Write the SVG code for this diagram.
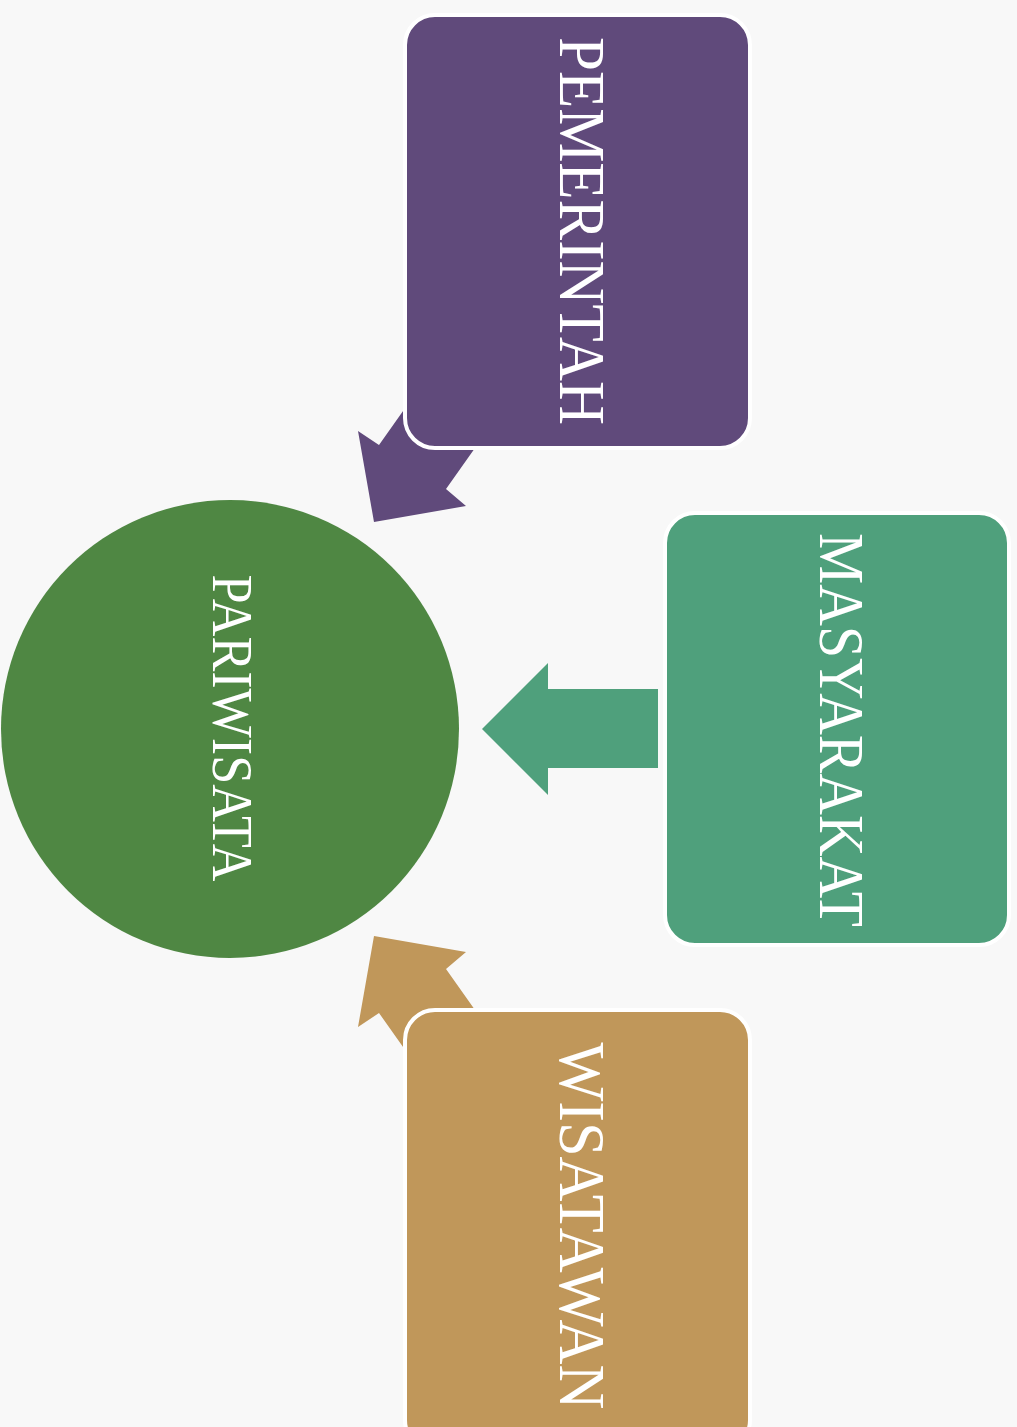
<svg xmlns="http://www.w3.org/2000/svg" width="1017" height="1427" viewBox="0 0 1017 1427">
  <style>
    .lbl { font-family: "Liberation Serif", "Times New Roman", serif; fill: #ffffff; text-anchor: middle; }
    .box { stroke: #ffffff; stroke-width: 4; }
  </style>
  <rect x="0" y="0" width="1017" height="1427" fill="#f8f8f8"/>
  <g id="connectors">
    <polygon id="arrow-pemerintah" fill="#604a7b" points="374,522 466,506 446,489 504,407 437,363 379,445 358,431"/>
    <polygon id="arrow-masyarakat" fill="#4fa07c" points="482,729 548,663 548,689 658,689 658,768 548,768 548,795"/>
    <polygon id="arrow-wisatawan" fill="#c0975a" points="374,936 466,952 446,969 504,1051 437,1095 379,1013 358,1027"/>
  </g>
  <g id="node-pariwisata">
    <circle cx="230" cy="729" r="229" fill="#4f8743"/>
    <text class="lbl" transform="translate(213,728) rotate(90)" font-size="56" textLength="307" lengthAdjust="spacingAndGlyphs">PARIWISATA</text>
  </g>
  <g id="node-pemerintah">
    <rect class="box" x="405" y="15" width="345" height="433" rx="30" fill="#604a7b"/>
    <text class="lbl" transform="translate(560,231) rotate(90)" font-size="65" textLength="388" lengthAdjust="spacingAndGlyphs">PEMERINTAH</text>
  </g>
  <g id="node-masyarakat">
    <rect class="box" x="665" y="513" width="344" height="432" rx="30" fill="#4fa07c"/>
    <text class="lbl" transform="translate(820,730) rotate(90)" font-size="64" textLength="394" lengthAdjust="spacingAndGlyphs">MASYARAKAT</text>
  </g>
  <g id="node-wisatawan">
    <rect class="box" x="405" y="1010" width="345" height="440" rx="30" fill="#c0975a"/>
    <text class="lbl" transform="translate(560,1226) rotate(90)" font-size="65" textLength="367" lengthAdjust="spacingAndGlyphs">WISATAWAN</text>
  </g>
</svg>
